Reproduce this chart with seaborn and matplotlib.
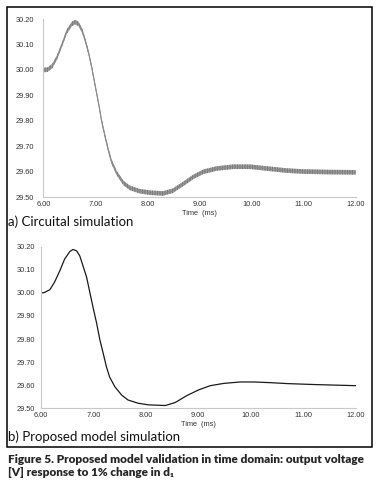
import numpy as np
import pandas as pd
import matplotlib
matplotlib.use("Agg")
import matplotlib.pyplot as plt
import seaborn as sns
from matplotlib.patches import Rectangle

# a) circuital simulation, band centre
t_circ = [6.00, 6.08, 6.17, 6.26, 6.36, 6.45, 6.55, 6.61, 6.68, 6.75, 6.80,
          6.87, 6.93, 6.99, 7.06, 7.12, 7.19, 7.25, 7.31, 7.41, 7.54, 7.66,
          7.85, 8.05, 8.30, 8.49, 8.69, 8.88, 9.07, 9.33, 9.65, 9.97, 10.29,
          10.67, 11.00, 11.50, 12.00]
v_circ = [30.000, 30.001, 30.015, 30.048, 30.100, 30.150, 30.181, 30.188,
          30.180, 30.152, 30.120, 30.067, 30.010, 29.945, 29.870, 29.800,
          29.735, 29.685, 29.640, 29.595, 29.556, 29.537, 29.524, 29.518,
          29.515, 29.526, 29.553, 29.580, 29.600, 29.613, 29.620, 29.620,
          29.613, 29.605, 29.601, 29.599, 29.598]

# b) proposed model simulation
t_model = [6.00, 6.06, 6.17, 6.26, 6.36, 6.45, 6.55, 6.61, 6.68, 6.74, 6.80,
           6.87, 6.93, 6.99, 7.06, 7.12, 7.19, 7.25, 7.31, 7.41, 7.54, 7.66,
           7.85, 8.05, 8.37, 8.56, 8.79, 9.01, 9.23, 9.49, 9.80, 10.06, 10.38,
           10.70, 11.20, 12.00]
v_model = [30.000, 30.001, 30.014, 30.047, 30.096, 30.146, 30.179, 30.188,
           30.182, 30.160, 30.118, 30.068, 30.004, 29.940, 29.870, 29.800,
           29.735, 29.678, 29.635, 29.593, 29.557, 29.536, 29.522, 29.515,
           29.512, 29.525, 29.556, 29.580, 29.598, 29.608, 29.614, 29.614,
           29.611, 29.607, 29.603, 29.598]

ripple = 0.009
x_ticks = [6, 7, 8, 9, 10, 11, 12]
y_ticks = [29.5, 29.6, 29.7, 29.8, 29.9, 30.0, 30.1, 30.2]

sns.set_theme(style="white")
plt.rcParams["hatch.linewidth"] = 0.6

df_a = pd.DataFrame({"t": t_circ, "v": v_circ})
df_b = pd.DataFrame({"t": t_model, "v": v_model})

fig = plt.figure(figsize=(3.81, 4.84), dpi=100)
ax_a = fig.add_axes([0.1137, 0.5924, 0.8199, 0.3683])
ax_b = fig.add_axes([0.1076, 0.1564, 0.8255, 0.3339])

# circuital curve drawn as a rippled band
ax_a.fill_between(df_a["t"], df_a["v"] - ripple, df_a["v"] + ripple,
                  facecolor="#b4b4b4", edgecolor="#6a6a6a",
                  hatch="|" * 10, linewidth=0)
sns.lineplot(data=df_a, x="t", y="v", ax=ax_a, color="#8a8a8a", lw=0.8)

sns.lineplot(data=df_b, x="t", y="v", ax=ax_b, color="#1a1a1a", lw=0.9,
             solid_joinstyle="round")

for ax, ypad in [(ax_a, 6.5), (ax_b, 4.5)]:
    ax.set_xlim(6, 12)
    ax.set_ylim(29.5, 30.2)
    ax.set_xticks(x_ticks)
    ax.set_yticks(y_ticks)
    ax.set_xticklabels([f"{v:.2f}" for v in x_ticks],
                       fontsize=5.3, color="#333333", family="Liberation Sans")
    ax.set_yticklabels([f"{v:.2f}" for v in y_ticks],
                       fontsize=5.3, color="#333333", family="Liberation Sans")
    ax.tick_params(axis="x", direction="in", length=2, width=0.5,
                   color="#cccccc", pad=3)
    ax.tick_params(axis="y", direction="in", length=2, width=0.5,
                   color="#cccccc", pad=ypad)
    ax.set_xlabel("Time  (ms)", fontsize=5.3, color="#333333",
                  family="Liberation Sans", labelpad=1)
    ax.set_ylabel("")
    for s in ["top", "right"]:
        ax.spines[s].set_visible(False)
    for s in ["left", "bottom"]:
        ax.spines[s].set_color("#c8c8c8")
        ax.spines[s].set_linewidth(0.8)

# outer frame
fig.patches.append(Rectangle((0.0184, 0.0764), 0.958, 0.9091,
                             transform=fig.transFigure, fill=False,
                             edgecolor="black", linewidth=1.1))

fig.text(0.022, 0.5413, "a) Circuital simulation", fontsize=9.5,
         family="Lato", va="center", ha="left", color="#111111")
fig.text(0.022, 0.097, "b) Proposed model simulation", fontsize=9.5,
         family="Lato", va="center", ha="left", color="#111111")
fig.text(0.021, 0.0496,
         "Figure 5. Proposed model validation in time domain: output voltage",
         fontsize=8.5, family=["Lato", "DejaVu Sans"], weight="heavy",
         va="center", ha="left")
fig.text(0.021, 0.0248, "[V] response to 1% change in d\u2081",
         fontsize=8.5, family=["Lato", "DejaVu Sans"], weight="heavy",
         va="center", ha="left")

fig.savefig("out.png", dpi=100)
